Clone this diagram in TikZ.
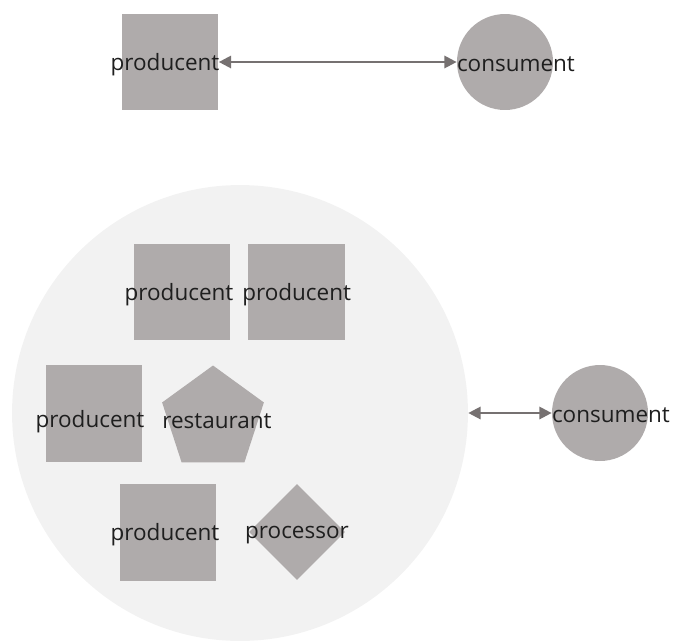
\documentclass[tikz,border=0pt]{standalone}
\usepackage{fontspec}
\setmainfont{Open Sans}
\usetikzlibrary{shapes.geometric,arrows.meta,positioning}

\definecolor{shapegray}{HTML}{AFABAB}
\definecolor{groupgray}{HTML}{F2F2F2}
\definecolor{linkgray}{HTML}{767171}
\definecolor{labelgray}{HTML}{1E1E1E}

\begin{document}
\begin{tikzpicture}[
    x=0.02cm, y=-0.02cm,
    actor/.style={rectangle, fill=shapegray, minimum size=1.94cm, inner sep=0pt},
    client/.style={circle, fill=shapegray, minimum size=1.92cm, inner sep=0pt},
    cook/.style={regular polygon, regular polygon sides=5, fill=shapegray, minimum size=2.14cm, inner sep=0pt},
    converter/.style={diamond, fill=shapegray, minimum size=1.92cm, inner sep=0pt},
    tag/.style={font=\fontsize{12.8}{14}\selectfont, text=labelgray, inner sep=0pt, yshift=-1.5pt},
    link/.style={draw=linkgray, line width=1.3pt, {Triangle[length=7pt,width=7pt]}-{Triangle[length=7pt,width=7pt]}}
]
\useasboundingbox (0,0) rectangle (673,640);

% Direct chain
\node[actor] (prodA) at (170,62) {};
\node[client] (consA) at (505,62) {};
\node[tag] (prodAtxt) at (165,62) {producent};
\node[tag, anchor=west] (consAtxt) at (consA.west) {consument};
\draw[link] (prodA.east) -- (consA.west);

% Local food group
\node[circle, fill=groupgray, minimum size=9.12cm, inner sep=0pt] (group) at (240,413) {};

\node[actor] (prodB) at (182,292) {};
\node[actor, right=0.34cm of prodB] (prodC) {};
\node[actor] (prodD) at (94,413) {};
\node[cook] (rest) at (213,419) {};
\node[actor] (prodE) at (168,532) {};
\node[converter] (proc) at (297,532) {};

\node[tag] (prodBtxt) at (179,292) {producent};
\node[tag] (prodCtxt) at (prodC.center) {producent};
\node[tag] (prodDtxt) at (90,419) {producent};
\node[tag] (resttxt) at (217,419) {restaurant};
\node[tag] (prodEtxt) at (165,532) {producent};
\node[tag] (proctxt) at (proc.center) {processor};

\node[client] (consB) at (600,413) {};
\node[tag, anchor=west] (consBtxt) at (consB.west) {consument};
\draw[link] (group.east) -- (consB.west);

\end{tikzpicture}
\end{document}
